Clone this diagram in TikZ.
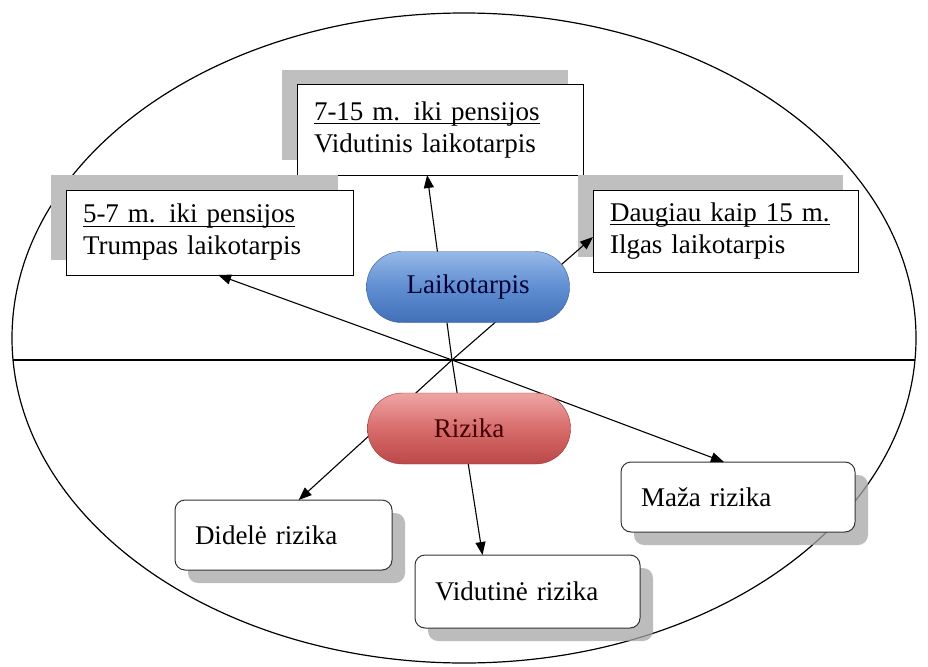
\documentclass[tikz,border=0pt]{standalone}
\usepackage{fontspec}
\setmainfont{Liberation Serif}
\newsavebox{\undlbox}
\newcommand{\undl}[1]{\sbox{\undlbox}{#1}\rlap{\rule[-4pt]{\wd\undlbox}{1.2pt}}\usebox{\undlbox}}
\usetikzlibrary{arrows.meta,shadows,calc}
\definecolor{pillblue}{RGB}{96,142,210}
\definecolor{pillbluetop}{RGB}{150,185,232}
\definecolor{pillbluebot}{RGB}{66,112,184}
\definecolor{pillblueline}{RGB}{52,90,150}
\definecolor{pillred}{RGB}{216,108,108}
\definecolor{pillredtop}{RGB}{238,165,165}
\definecolor{pillredbot}{RGB}{188,72,72}
\definecolor{pillredline}{RGB}{160,50,50}
\begin{document}
\begin{tikzpicture}[x=1pt,y=-1pt,
  txt/.style={font=\fontsize{27}{32}\selectfont},
  period/.style={txt,draw,fill=white,line width=1pt,align=left,inner xsep=17pt,outer sep=0pt,
    drop shadow={shadow xshift=-15pt,shadow yshift=15pt,fill=black!25,opacity=1}},
  risk/.style={txt,draw=black!80,fill=white,line width=1pt,rounded corners=10pt,align=left,
    inner xsep=20pt,outer sep=0pt,
    drop shadow={shadow xshift=13pt,shadow yshift=-13pt,fill=black!35,opacity=0.75}},
  pill/.style={txt,rounded corners=35pt,minimum width=203pt,minimum height=71pt,outer sep=0pt},
  link/.style={-{Triangle[length=13pt,width=10pt]},line width=1.1pt}]
\useasboundingbox (0,0) rectangle (928,666);
\draw[line width=1.2pt] (464,338) ellipse [x radius=452, y radius=325];
\draw[line width=1.2pt] (13,360) -- (915,360);
\node[period,text width=252pt,minimum height=90pt] (vidutinis) at (440,130)
  {\undl{7-15 m. iki pensijos}\\Vidutinis laikotarpis};
\node[period,text width=253pt,minimum height=85pt] (trumpas) at (209.5,232.5)
  {\undl{5-7 m. iki pensijos}\\Trumpas laikotarpis};
\node[period,text width=231pt,minimum height=82pt] (ilgas) at (725.5,231)
  {\undl{Daugiau kaip 15 m.}\\Ilgas laikotarpis};
\node[risk,text width=177pt,minimum height=70pt] (didele) at (283.5,535) {Didelė rizika};
\node[risk,text width=185pt,minimum height=73pt] (vidutine) at (527.5,591.5) {Vidutinė rizika};
\node[risk,text width=194pt,minimum height=70pt] (maza) at (738,497) {Maža rizika};
\coordinate (x) at (452,360);
\draw[link] (x) -- ($(trumpas.south west)!0.53!(trumpas.south east)$);
\draw[link] (x) -- ($(vidutinis.south west)!0.455!(vidutinis.south east)$);
\draw[link] (x) -- ($(ilgas.west)+(0,6)$);
\draw[link] (x) -- ($(didele.north west)!0.57!(didele.north east)$);
\draw[link] (x) -- ($(vidutine.north west)!0.3!(vidutine.north east)$);
\draw[link] (x) -- ($(maza.north west)!0.44!(maza.north east)$);
\node[pill,draw=pillblueline,top color=pillbluetop,bottom color=pillbluebot,middle color=pillblue,
  text=blue!20!black] (laikotarpis) at (468,287) {Laikotarpis};
\node[pill,draw=pillredline,top color=pillredtop,bottom color=pillredbot,middle color=pillred,
  text=red!25!black] (rizika) at (469,428.5) {Rizika};
\end{tikzpicture}
\end{document}
